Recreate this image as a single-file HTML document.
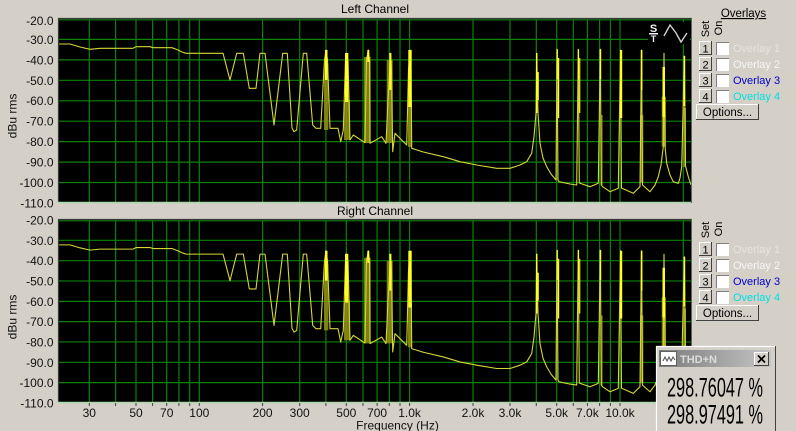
<!DOCTYPE html>
<html><head><meta charset="utf-8"><style>
html,body{margin:0;padding:0;background:#d4d0c8;}
svg{display:block;font-family:"Liberation Sans",Arial,sans-serif;}
</style></head><body>
<svg width="796" height="431" viewBox="0 0 796 431" xmlns="http://www.w3.org/2000/svg">
<defs>
<clipPath id="ct"><rect x="59" y="19" width="633" height="184"/></clipPath>
<linearGradient id="tb" x1="0" x2="1" y1="0" y2="0"><stop offset="0" stop-color="#7c7c7c"/><stop offset="1" stop-color="#c4c4c4"/></linearGradient>
</defs>
<rect width="796" height="431" fill="#d4d0c8"/>

<!-- plot backgrounds -->
<rect x="58" y="18" width="634" height="185" fill="#000"/>
<rect x="58" y="219" width="634" height="184" fill="#000"/>

<g id="pc" clip-path="url(#ct)">
 <g stroke="#0b800b" stroke-width="1.2" fill="none">
  <path d="M89.3 18V203M115.6 18V203M136 18V203M152.6 18V203M166.7 18V203M178.9 18V203M189.7 18V203M199.3 18V203M262.6 18V203M299.7 18V203M325.9 18V203M346.3 18V203M363 18V203M377.1 18V203M389.3 18V203M400 18V203M409.6 18V203M473 18V203M510 18V203M536.3 18V203M556.7 18V203M573.3 18V203M587.4 18V203M599.6 18V203M610.4 18V203M620 18V203M683.3 18V203"/>
  <path d="M58 19.8H692M58 39.4H692M58 59.9H692M58 80.3H692M58 100.8H692M58 121.2H692M58 141.6H692M58 162.1H692M58 182.5H692"/>
 </g>
 <!-- olive thick columns -->
 <g fill="#8c8c14" opacity="0.9">
  <rect x="324" y="63" width="4.3" height="67"/>
  <rect x="344" y="100" width="6" height="40"/>
  <rect x="364" y="57" width="6.7" height="86"/>
  <rect x="386.7" y="60" width="6" height="83"/>
  <rect x="408" y="100" width="4" height="47"/>
  <rect x="601" y="115" width="1.6" height="70"/>
  <rect x="640" y="115" width="3.3" height="68"/>
  <rect x="661.7" y="96.7" width="4.3" height="50"/>
  <rect x="683.3" y="108" width="2.7" height="59"/>
 </g>
 <polyline fill="none" stroke="#d6d636" stroke-width="1.1" stroke-linejoin="round" points="58,44 70,44 80,47 90,49.3 100,48.3 133,48.3 136,46.7 150,46.7 153,47.7 172,47.7 178,50 182,52 186,53.3 223,53.3 230,80 236.7,53.3 243.3,53.3 249.3,88.3 256,88.3 260,53.3 265,53.3 274,125 282.7,53.3 287.3,53.3 292,128 294,131.7 296.7,130 303.3,53.3 306.7,53.3 312.7,125 316,128.3 320.7,128.3 324.5,60 326,50 327.5,60 330,128.3 338,128.3 340.7,141.7 343.3,130 345.5,60 346.7,53.3 348,60 350,140 353.3,135 365,142.7 366.5,60 368.3,50 369.5,60 370,143.3 381.7,136.7 386,143.3 388,100 390.7,53.3 391.5,70 392.7,151.7 395,133.3 406.7,145 408.5,70 410,50 411,70 411.7,148.3 423.3,152 443.3,156.7 460,161.7 476.7,165 496.7,168.3 510,168.3 520,165 526.7,161.7 531.7,153.3 534,136.7 536,113 536.7,53.3 538,113 540,143.3 543,158 546.7,166.7 551,174 556,180 557,49.3 558,180 559,181.7 570,184 576.7,185 578.3,49.3 579.3,183 590,186.7 598.3,183.3 600.3,49.3 601.3,185 602.7,186.7 610,191.7 618.3,188.3 620.5,50 621.5,188 633.3,193.3 640,186.7 641.5,50 642.5,185 650,191.7 655,185 658.3,176.7 661,165 663.3,146.7 664,53.3 665,146 666.7,163.3 670,175 673.3,181.7 678.3,183.3 680,178 681.7,166.7 684.3,56 685.5,166 688.3,176.7 691,185"/>
 <!-- bright spike cores -->
 <g fill="#ffff22">
  <rect x="325" y="50" width="2.5" height="30"/>
  <rect x="345" y="53" width="3.3" height="49"/>
  <rect x="367.3" y="50" width="2" height="12"/>
  <rect x="389.3" y="53" width="2" height="37"/>
  <rect x="408.3" y="50" width="3.4" height="57"/>
  <rect x="536" y="53" width="1.4" height="60"/>
  <rect x="537.5" y="72" width="1.3" height="28"/>
  <rect x="556.6" y="49.3" width="1.3" height="30"/>
  <rect x="558" y="58" width="1.2" height="60"/>
  <rect x="577.8" y="49.3" width="1.3" height="30"/>
  <rect x="579.2" y="58" width="1.1" height="55"/>
  <rect x="599.6" y="49.3" width="1.6" height="30"/>
  <rect x="620" y="50" width="2.2" height="68"/>
  <rect x="640.8" y="50" width="1.6" height="40"/>
  <rect x="662.5" y="67" width="2.5" height="50"/>
  <rect x="683.6" y="56" width="1.6" height="50"/>
 </g>
</g>
<use href="#pc" transform="matrix(1 0 0 0.99457 0 201.1)"/>

<!-- plot frames -->
<g fill="none">
 <path d="M58.5 18V203M58 18.5H692" stroke="#3a3a3a" stroke-width="1.2"/>
 <path d="M58 202.5H692" stroke="#a8d8a8" stroke-width="1.4"/>
 <path d="M58.5 219V403M58 219.5H692" stroke="#3a3a3a" stroke-width="1.2"/>
 <path d="M58 402.5H692" stroke="#a8d8a8" stroke-width="1.4"/>
 <path d="M691.5 18V203M691.5 219V403" stroke="#5a6a5a" stroke-width="1"/>
 <path d="M89.3 403V406M115.6 403V406M136 403V406M152.6 403V406M166.7 403V406M178.9 403V406M189.7 403V406M199.3 403V406M262.6 403V406M299.7 403V406M325.9 403V406M346.3 403V406M363 403V406M377.1 403V406M389.3 403V406M400 403V406M409.6 403V406M473 403V406M510 403V406M536.3 403V406M556.7 403V406M573.3 403V406M587.4 403V406M599.6 403V406M610.4 403V406M620 403V406M683.3 403V406" stroke="#404040" stroke-width="1"/>
</g>

<!-- S/T sine icon -->
<g>
 <rect x="648" y="22" width="42" height="22" fill="#000"/>
 <text x="653.5" y="32" font-size="11" font-weight="bold" fill="#f0f0f0" text-anchor="middle">S</text>
 <rect x="649" y="33" width="9" height="1.5" fill="#f0f0f0"/>
 <text x="653.5" y="42" font-size="9" font-weight="bold" fill="#f0f0f0" text-anchor="middle">T</text>
 <path d="M664 36 L670 25 L676 33 L681 42 L687 33" fill="none" stroke="#d0d0d0" stroke-width="1.4"/>
</g>

<!-- titles -->
<text x="375" y="13" font-size="12" fill="#000" text-anchor="middle">Left Channel</text>
<text x="375" y="215" font-size="12" fill="#000" text-anchor="middle">Right Channel</text>

<!-- y labels -->
<g font-size="12" fill="#111" text-anchor="end">
 <text x="53.5" y="25">-20.0</text><text x="53.5" y="44">-30.0</text><text x="53.5" y="64.5">-40.0</text><text x="53.5" y="85">-50.0</text><text x="53.5" y="105">-60.0</text><text x="53.5" y="125.5">-70.0</text><text x="53.5" y="146">-80.0</text><text x="53.5" y="166.5">-90.0</text><text x="53.5" y="187">-100.0</text><text x="53.5" y="207.5">-110.0</text>
 <text x="53.5" y="224.5">-20.0</text><text x="53.5" y="244.8">-30.0</text><text x="53.5" y="265">-40.0</text><text x="53.5" y="285.5">-50.0</text><text x="53.5" y="305.8">-60.0</text><text x="53.5" y="326">-70.0</text><text x="53.5" y="346.5">-80.0</text><text x="53.5" y="366.8">-90.0</text><text x="53.5" y="387">-100.0</text><text x="53.5" y="407.3">-110.0</text>
</g>
<text transform="translate(16.5,116) rotate(-90)" font-size="12" fill="#111" text-anchor="middle">dBu rms</text>
<text transform="translate(16.5,317) rotate(-90)" font-size="12" fill="#111" text-anchor="middle">dBu rms</text>

<!-- x labels -->
<g font-size="12" fill="#111" text-anchor="middle">
 <text x="89.3" y="417">30</text><text x="136" y="417">50</text><text x="166.7" y="417">70</text><text x="199.3" y="417">100</text><text x="262.6" y="417">200</text><text x="299.7" y="417">300</text><text x="346.3" y="417">500</text><text x="377.1" y="417">700</text><text x="409.6" y="417">1.0k</text><text x="473" y="417">2.0k</text><text x="510" y="417">3.0k</text><text x="556.7" y="417">5.0k</text><text x="587.4" y="417">7.0k</text><text x="620" y="417">10.0k</text>
 <text x="397.5" y="429.5">Frequency (Hz)</text>
</g>

<!-- overlay panel top -->
<text x="743.5" y="17" font-size="11.5" fill="#000" text-anchor="middle" text-decoration="underline">Overlays</text>
<g id="ovp">
 <text transform="translate(709,29) rotate(-90)" font-size="11" fill="#000" text-anchor="middle">Set</text>
 <text transform="translate(722,28) rotate(-90)" font-size="11" fill="#000" text-anchor="middle">On</text>
 <g font-size="11" text-anchor="middle">
  <g>
   <rect x="699" y="41" width="13" height="14" fill="#d4d0c8"/>
   <path d="M699.5 55V41.5H712" stroke="#fff" fill="none"/><path d="M699 54.5H711.5V41" stroke="#404040" fill="none"/>
   <text x="705.5" y="52.5" fill="#000">1</text>
   <rect x="716" y="42" width="13" height="13" fill="#fff"/>
   <path d="M716.5 55V42.5H729" stroke="#808080" fill="none"/>
  </g>
  <g>
   <rect x="699" y="57" width="13" height="14" fill="#d4d0c8"/>
   <path d="M699.5 71V57.5H712" stroke="#fff" fill="none"/><path d="M699 70.5H711.5V57" stroke="#404040" fill="none"/>
   <text x="705.5" y="68.5" fill="#000">2</text>
   <rect x="716" y="58" width="13" height="13" fill="#fff"/>
   <path d="M716.5 71V58.5H729" stroke="#808080" fill="none"/>
  </g>
  <g>
   <rect x="699" y="73" width="13" height="14" fill="#d4d0c8"/>
   <path d="M699.5 87V73.5H712" stroke="#fff" fill="none"/><path d="M699 86.5H711.5V73" stroke="#404040" fill="none"/>
   <text x="705.5" y="84.5" fill="#000">3</text>
   <rect x="716" y="74" width="13" height="13" fill="#fff"/>
   <path d="M716.5 87V74.5H729" stroke="#808080" fill="none"/>
  </g>
  <g>
   <rect x="699" y="89" width="13" height="14" fill="#d4d0c8"/>
   <path d="M699.5 103V89.5H712" stroke="#fff" fill="none"/><path d="M699 102.5H711.5V89" stroke="#404040" fill="none"/>
   <text x="705.5" y="100.5" fill="#000">4</text>
   <rect x="716" y="90" width="13" height="13" fill="#fff"/>
   <path d="M716.5 103V90.5H729" stroke="#808080" fill="none"/>
  </g>
 </g>
 <g font-size="11">
  <text x="733" y="52" fill="#e6e4e0">Overlay 1</text>
  <text x="733" y="68" fill="#f6f6f6">Overlay 2</text>
  <text x="733" y="84" fill="#0000c8">Overlay 3</text>
  <text x="733" y="100" fill="#00e0e0">Overlay 4</text>
 </g>
 <rect x="696" y="104.5" width="63" height="15" fill="#d4d0c8"/>
 <path d="M696.5 119.5V104.5H759" stroke="#fff" fill="none"/><path d="M696 119.5H758.5V104" stroke="#404040" fill="none"/>
 <text x="727.5" y="116" font-size="11.5" fill="#000" text-anchor="middle">Options...</text>
</g>
<use href="#ovp" transform="translate(0,201)"/>

<!-- THD+N window -->
<g>
 <rect x="656" y="346" width="121" height="90" fill="#d4d0c8"/>
 <path d="M656.5 431V346.5H776" stroke="#fff" stroke-width="1.2" fill="none"/>
 <path d="M775.5 346V431" stroke="#404040" fill="none"/>
 <rect x="659" y="350" width="112" height="17" fill="url(#tb)"/>
 <rect x="660.5" y="351.5" width="16" height="14" fill="#fff" stroke="#606060" stroke-width="1"/>
 <path d="M663 361 L665 357 L667 361 L669 357 L671 361 L673 357 L675 360" stroke="#505050" stroke-width="1" fill="none"/>
 <text x="680" y="363" font-size="11" font-weight="bold" fill="#dcdcdc">THD+N</text>
 <rect x="754" y="352.5" width="15" height="13" fill="#d4d0c8"/>
 <path d="M754.5 365.5V352.5H769" stroke="#fff" fill="none"/><path d="M754 365.5H768.5V352" stroke="#404040" fill="none"/>
 <path d="M758 355.5L765 362.5M765 355.5L758 362.5" stroke="#000" stroke-width="1.8"/>
 <text x="667" y="396.7" font-size="27" fill="#000" textLength="96" lengthAdjust="spacingAndGlyphs" font-family="Liberation Sans Narrow, Liberation Sans, sans-serif">298.76047 %</text>
 <text x="667" y="423.5" font-size="27" fill="#000" textLength="96" lengthAdjust="spacingAndGlyphs" font-family="Liberation Sans Narrow, Liberation Sans, sans-serif">298.97491 %</text>
</g>
</svg>
</body></html>
